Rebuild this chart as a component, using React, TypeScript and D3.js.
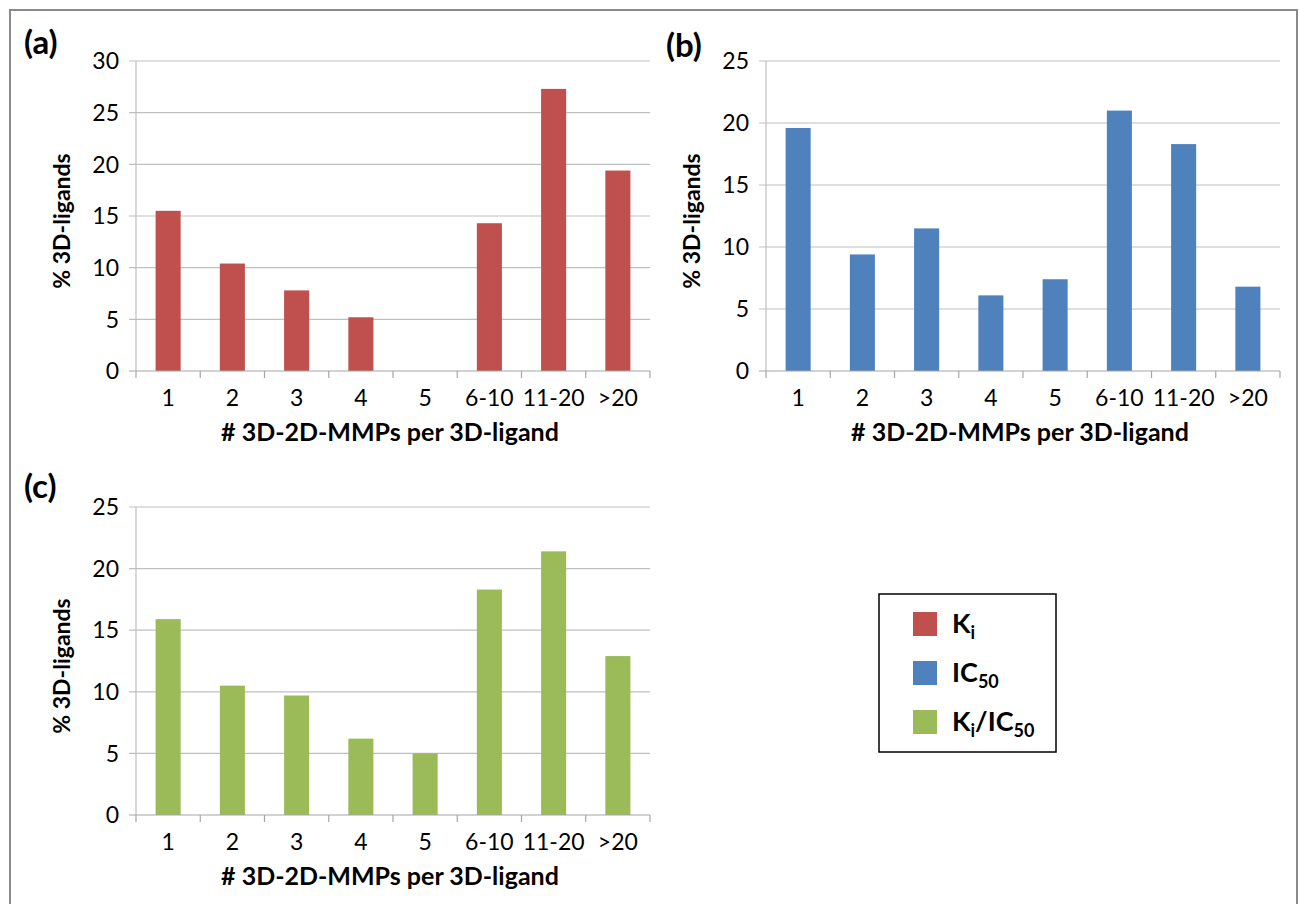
import { useEffect, useRef } from 'react';
import * as d3 from 'd3';

const categories = ['1', '2', '3', '4', '5', '6-10', '11-20', '>20'];
const kiValues = [15.5, 10.4, 7.8, 5.2, 0, 14.3, 27.3, 19.4];
const ic50Values = [19.6, 9.4, 11.5, 6.1, 7.4, 21.0, 18.3, 6.8];
const bothValues = [15.9, 10.5, 9.7, 6.2, 5.0, 18.3, 21.4, 12.9];
const ticksA = [0, 5, 10, 15, 20, 25, 30];
const ticksBC = [0, 5, 10, 15, 20, 25];

const FONT = 'Lato, "Open Sans", sans-serif';

type PanelSpec = {
  tag: string;
  values: number[];
  ticks: number[];
  color: string;
  left: number;
  right: number;
  top: number;
  bottom: number;
  tagX: number;
  tagY: number;
};

export default function App() {
  const svgRef = useRef<SVGSVGElement>(null);

  useEffect(() => {
    if (!svgRef.current) return;
    const svg = d3.select(svgRef.current);
    svg.selectAll('*').remove();

    // outer frame
    svg.append('rect')
      .attr('x', 10).attr('y', 10)
      .attr('width', 1287).attr('height', 900)
      .attr('fill', 'none')
      .attr('stroke', '#8a8a8a')
      .attr('stroke-width', 2);

    const panels: PanelSpec[] = [
      { tag: '(a)', values: kiValues, ticks: ticksA, color: '#c0504d', left: 136, right: 650, top: 61, bottom: 371, tagX: 24, tagY: 54 },
      { tag: '(b)', values: ic50Values, ticks: ticksBC, color: '#4f81bd', left: 766, right: 1280, top: 61, bottom: 371, tagX: 666, tagY: 57 },
      { tag: '(c)', values: bothValues, ticks: ticksBC, color: '#9bbb59', left: 136, right: 650, top: 507, bottom: 815, tagX: 24, tagY: 498 },
    ];

    panels.forEach(p => {
      const g = svg.append('g');
      const xb = d3.scaleBand<string>().domain(categories).range([p.left, p.right]);
      const barW = xb.bandwidth() * 0.39;
      const y = d3.scaleLinear()
        .domain([0, d3.max(p.ticks) as number])
        .range([p.bottom, p.top]);

      // grid
      g.append('g')
        .selectAll('line')
        .data(p.ticks.filter(t => t > 0))
        .join('line')
        .attr('x1', p.left - 7).attr('x2', p.right)
        .attr('y1', d => y(d)).attr('y2', d => y(d))
        .attr('stroke', '#bfbfbf').attr('stroke-width', 1.2);

      // y axis
      g.append('line')
        .attr('x1', p.left).attr('x2', p.left)
        .attr('y1', p.top).attr('y2', p.bottom)
        .attr('stroke', '#bfbfbf').attr('stroke-width', 1.2);

      // bars
      g.append('g')
        .selectAll('rect')
        .data(p.values)
        .join('rect')
        .attr('x', (_, i) => (xb(categories[i]) as number) + (xb.bandwidth() - barW) / 2)
        .attr('width', barW)
        .attr('y', d => y(d))
        .attr('height', d => y(0) - y(d))
        .attr('fill', p.color);

      // x axis line + ticks
      g.append('line')
        .attr('x1', p.left - 7).attr('x2', p.right)
        .attr('y1', p.bottom).attr('y2', p.bottom)
        .attr('stroke', '#a6a6a6').attr('stroke-width', 1.2);
      g.append('g')
        .selectAll('line')
        .data(categories.concat(['end']))
        .join('line')
        .attr('x1', (d, i) => i < categories.length ? (xb(d) as number) : p.right)
        .attr('x2', (d, i) => i < categories.length ? (xb(d) as number) : p.right)
        .attr('y1', p.bottom).attr('y2', p.bottom + 7)
        .attr('stroke', '#a6a6a6').attr('stroke-width', 1.2);

      // y tick labels
      g.append('g')
        .selectAll('text')
        .data(p.ticks)
        .join('text')
        .attr('x', p.left - 17)
        .attr('y', d => y(d))
        .attr('dy', '0.36em')
        .attr('text-anchor', 'end')
        .attr('font-family', FONT)
        .attr('font-size', 23)
        .attr('fill', '#000')
        .text(d => d);

      // x tick labels
      g.append('g')
        .selectAll('text')
        .data(categories)
        .join('text')
        .attr('x', d => (xb(d) as number) + xb.bandwidth() / 2)
        .attr('y', p.bottom + 35)
        .attr('text-anchor', 'middle')
        .attr('font-family', FONT)
        .attr('font-size', 23)
        .attr('fill', '#000')
        .text(d => d);

      // x axis title
      g.append('text')
        .attr('x', (p.left + p.right) / 2 - 3)
        .attr('y', p.bottom + 70)
        .attr('text-anchor', 'middle')
        .attr('font-family', FONT)
        .attr('font-size', 25)
        .attr('font-weight', 'bold')
        .text('# 3D-2D-MMPs per 3D-ligand');

      // y axis title
      const cy = (p.top + p.bottom) / 2 + 5;
      g.append('text')
        .attr('transform', `translate(${p.left - 66},${cy}) rotate(-90)`)
        .attr('text-anchor', 'middle')
        .attr('font-family', FONT)
        .attr('font-size', 23)
        .attr('font-weight', 'bold')
        .text('% 3D-ligands');

      // panel tag
      g.append('text')
        .attr('x', p.tagX)
        .attr('y', p.tagY)
        .attr('font-family', FONT)
        .attr('font-size', 33)
        .attr('font-weight', 'bold')
        .text(p.tag);
    });

    // legend
    const legend = svg.append('g');
    legend.append('rect')
      .attr('x', 879).attr('y', 594)
      .attr('width', 177).attr('height', 158)
      .attr('fill', '#fff')
      .attr('stroke', '#000')
      .attr('stroke-width', 1.5);

    const legendItems = [
      { color: '#c0504d', parts: [['K', ''], ['i', 'sub']] },
      { color: '#4f81bd', parts: [['IC', ''], ['50', 'sub']] },
      { color: '#9bbb59', parts: [['K', ''], ['i', 'sub'], ['/IC', ''], ['50', 'sub']] },
    ];
    legendItems.forEach((item, i) => {
      const yy = 612 + i * 49;
      legend.append('rect')
        .attr('x', 913).attr('y', yy)
        .attr('width', 24).attr('height', 24)
        .attr('fill', item.color);
      const t = legend.append('text')
        .attr('x', 952).attr('y', yy + 21)
        .attr('font-family', FONT)
        .attr('font-size', 27)
        .attr('font-weight', 'bold');
      item.parts.forEach(([txt, kind], k) => {
        const span = t.append('tspan').text(txt);
        if (kind === 'sub') {
          span.attr('font-size', 18).attr('dy', 6);
        } else if (k > 0) {
          span.attr('dy', -6);
        }
      });
    });
  }, []);

  return (
    <svg
      ref={svgRef}
      width={1299}
      height={904}
      style={{ position: 'absolute', left: 0, top: 0, background: '#fff' }}
    />
  );
}
